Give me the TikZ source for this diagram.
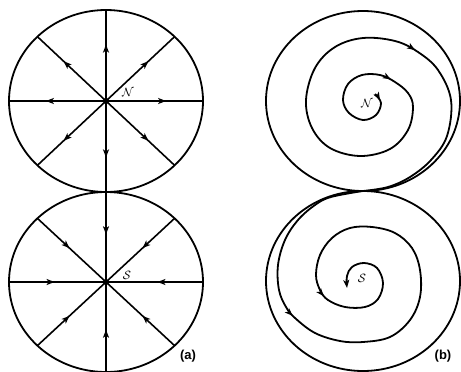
\documentclass[tikz,border=0pt]{standalone}
\usepackage{fontspec}
\newfontfamily\labfont{Liberation Sans}
\usetikzlibrary{arrows.meta,decorations.markings,calc}
\begin{document}
\begin{tikzpicture}[x=1pt,y=-1pt,
  barb/.tip={Stealth[length=8pt,width=6pt,inset=2pt]},
  bound/.style={line width=1.8pt},
  spoke/.style={line width=1.6pt},
  traj/.style={line width=1.8pt},
  outarrow/.style={postaction={decorate},decoration={markings,mark=at position 0.62 with {\arrow{barb}}}},
  inarrow/.style={postaction={decorate},decoration={markings,mark=at position 0.47 with {\arrow{barb}}}},
  pole/.style={font=\fontsize{12}{14}\selectfont, inner sep=0pt},
  panel/.style={font=\labfont\bfseries\fontsize{13}{15}\selectfont, inner sep=0pt}
]
\useasboundingbox (0,0) rectangle (461,372);

% ---------------- (a) ----------------
\coordinate (N) at (106,101);
\coordinate (S) at (106,282);
\draw[bound] (N) ellipse [x radius=97pt, y radius=91pt];
\draw[bound] (S) ellipse [x radius=97pt, y radius=90pt];
\foreach \a in {0,45,...,315} {
  \coordinate (n\a) at ($(N)+(\a:97 and 91)$);
  \draw[spoke,outarrow] (N) -- (n\a);
  \coordinate (s\a) at ($(S)+(\a:97 and 90)$);
  \draw[spoke,inarrow] (s\a) -- (S);
}
\fill (N) circle [radius=3pt];
\fill (S) circle [radius=3pt];
\node[pole] (lN) at (128,92) {$\mathcal{N}$};
\node[pole] (lS) at (127,275) {$\mathcal{S}$};
\node[panel] (la) at (188,356) {(a)};

% ---------------- (b) ----------------
\coordinate (N2) at (363,101);
\coordinate (S2) at (363,281);
\draw[bound] (N2) ellipse [x radius=97pt, y radius=90pt];
\draw[bound] (S2) ellipse [x radius=97pt, y radius=90pt];

\draw[traj, postaction={decorate}, decoration={markings,
    mark=at position 8pt with {\arrow{barb}},
    mark=at position 133pt with {\arrow{barb}},
    mark=at position 486pt with {\arrow{barb}}}]
  plot[smooth, tension=0.6] coordinates {
  (375,94) (381,103) (376,115) (363,120) (349,113) (343,100) (348,84)
  (362,75) (380,75) (395,82) (408,93) (413,107) (408,130) (390,149)
  (360,156) (330,148) (312,128) (306,100) (315,68) (335,47) (363,38)
  (395,41) (418,52) (438,70) (451,100) (447,136) (431,160) (410,177)
  (388,187) (363,191)};

\draw[traj, -{barb}, postaction={decorate}, decoration={markings,
    mark=at position 178pt with {\arrow{barb}},
    mark=at position 540pt with {\arrow{barb}}}]
  plot[smooth, tension=0.6] coordinates {
  (363,191) (331,197) (315,205) (298,220) (285,240) (278,265) (279,290)
  (286,307) (295,318) (315,333) (340,341) (363,342) (390,337) (410,320)
  (420,297) (420,270) (412,248) (395,233) (372,227) (350,228) (332,238)
  (320,255) (316,275) (320,290) (328,300) (345,307) (365,307) (378,299)
  (383,283) (377,268) (364,263) (352,267) (347,276) (347,288)};

\node[pole] (lN2) at (367,103) {$\mathcal{N}$};
\node[pole] (lS2) at (362,278) {$\mathcal{S}$};
\node[panel] (lb) at (443,356) {(b)};
\end{tikzpicture}
\end{document}
